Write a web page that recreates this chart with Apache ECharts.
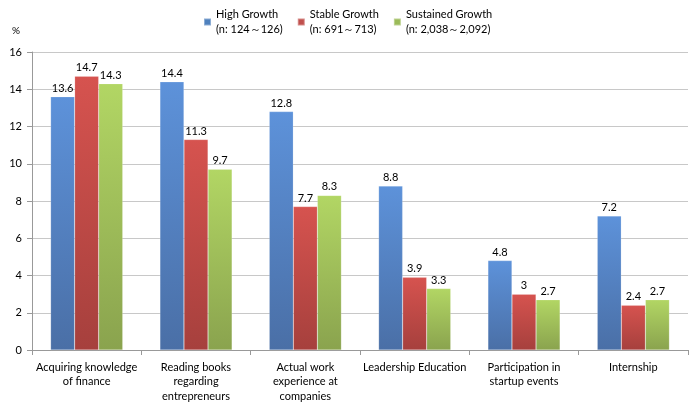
<!DOCTYPE html>
<html><head><meta charset="utf-8">
<script src="https://cdn.jsdelivr.net/npm/echarts@6/dist/echarts.min.js"></script>
<style>html,body{margin:0;padding:0;background:#fff}#c{width:692px;height:412px}</style>
</head><body><div id="c"></div>
<script>
const categories = ["Acquiring knowledge\nof finance", "Reading books\nregarding\nentrepreneurs", "Actual work\nexperience at\ncompanies", "Leadership Education", "Participation in\nstartup events", "Internship"];
const seriesNames = ["High Growth", "Stable Growth", "Sustained Growth"];
const legendLabels = ["High Growth\n(n: 124～126)", "Stable Growth\n(n: 691～713)", "Sustained Growth\n(n: 2,038～2,092)"];
const highGrowth = [13.6, 14.4, 12.8, 8.8, 4.8, 7.2];
const stableGrowth = [14.7, 11.3, 7.7, 3.9, 3, 2.4];
const sustainedGrowth = [14.3, 9.7, 8.3, 3.3, 2.7, 2.7];
const yTicks = [0, 2, 4, 6, 8, 10, 12, 14, 16];

const FONT = 'Lato';
function grad(top, bottom) {
  return new echarts.graphic.LinearGradient(0, 0, 0, 1, [{offset: 0, color: top}, {offset: 1, color: bottom}]);
}
const colors = [grad('#5d92da', '#4a6fa6'), grad('#d6534f', '#a6403d'), grad('#b2d664', '#8aa34e')];
const legendColors = ['#4f81bd', '#c0504d', '#9bbb59'];
const values = [highGrowth, stableGrowth, sustainedGrowth];

const chart = echarts.init(document.getElementById('c'), null, {renderer: 'canvas'});
chart.setOption({
  animation: false,
  textStyle: {fontFamily: FONT},
  legend: {
    top: 4, left: 198, itemGap: 14, itemWidth: 7, itemHeight: 7,
    icon: 'rect',
    data: seriesNames.map((n, i) => ({name: n, itemStyle: {color: legendColors[i]}})),
    formatter: name => legendLabels[seriesNames.indexOf(name)],
    textStyle: {fontFamily: FONT, fontSize: 11, color: '#000', lineHeight: 15, verticalAlign: 'top', padding: [-5, 0, 0, 0]}
  },
  grid: {left: 32, right: 4, top: 52, bottom: 62, containLabel: false},
  graphic: [{type: 'text', left: 12, top: 26, style: {text: '%', fontSize: 10, fontFamily: FONT, fill: '#000'}}],
  xAxis: {
    type: 'category', data: categories,
    axisLine: {lineStyle: {color: '#999'}},
    axisTick: {show: true, length: 5, lineStyle: {color: '#999'}},
    axisLabel: {fontFamily: FONT, fontSize: 11, color: '#000', lineHeight: 14.5, margin: 10, interval: 0}
  },
  yAxis: {
    type: 'value', min: 0, max: 16, interval: 2,
    axisLine: {show: true, lineStyle: {color: '#999'}},
    axisTick: {show: true, length: 5, inside: false, lineStyle: {color: '#999'}},
    splitLine: {lineStyle: {color: '#c8c8c8'}},
    axisLabel: {fontFamily: FONT, fontSize: 11, color: '#000', margin: 10,
      formatter: v => yTicks.includes(v) ? String(v) : ''}
  },
  series: seriesNames.map((n, i) => ({
    name: n, type: 'bar', data: values[i],
    barGap: '0%', barCategoryGap: '34%',
    itemStyle: {color: colors[i], borderColor: 'rgba(255,255,255,0.35)', borderWidth: 0.5},
    label: {show: true, position: 'top', distance: 3, fontFamily: FONT, fontSize: 11, color: '#000'}
  }))
});
</script></body></html>
